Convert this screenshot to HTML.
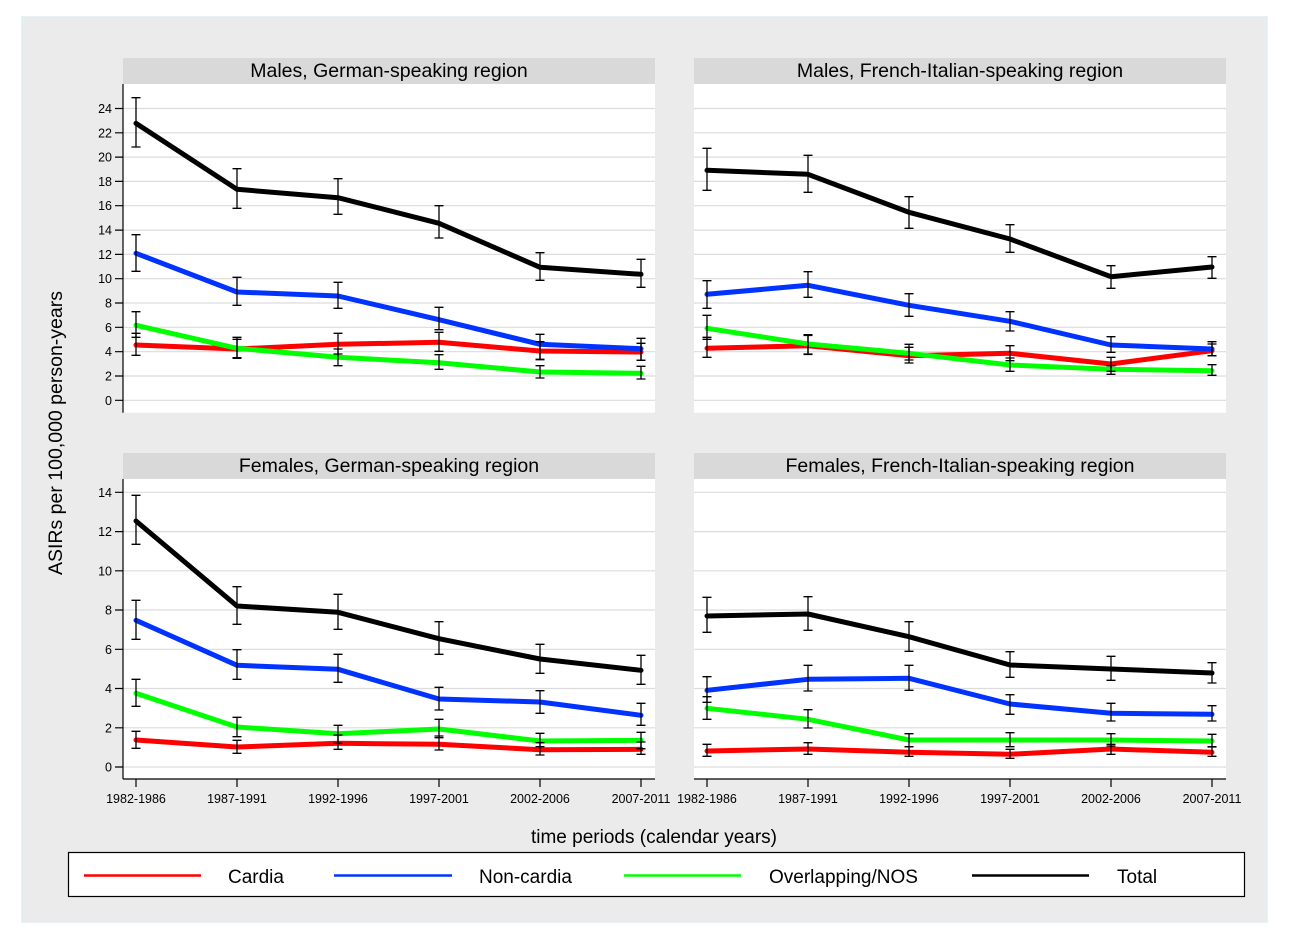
<!DOCTYPE html>
<html>
<head>
<meta charset="utf-8">
<style>
html,body{margin:0;padding:0;background:#fff;width:1290px;height:940px;overflow:hidden;}
svg{display:block;font-family:"Liberation Sans",Arial,sans-serif;}
</style>
</head>
<body>
<svg width="1290" height="940" viewBox="0 0 1290 940" xmlns="http://www.w3.org/2000/svg">
  <!-- outer background -->
  <rect x="22" y="17" width="1245" height="905" fill="#EBEBEB" stroke="#DDEEF0" stroke-width="1.5"/>

  <!-- title bars -->
  <rect x="123" y="58" width="532" height="26" fill="#D9D9D9"/>
  <rect x="694" y="58" width="532" height="26" fill="#D9D9D9"/>
  <rect x="123" y="453" width="532" height="26" fill="#D9D9D9"/>
  <rect x="694" y="453" width="532" height="26" fill="#D9D9D9"/>
  <g font-size="19.5" fill="#000" text-anchor="middle">
    <text x="389" y="77">Males, German-speaking region</text>
    <text x="960" y="77">Males, French-Italian-speaking region</text>
    <text x="389" y="472">Females, German-speaking region</text>
    <text x="960" y="472">Females, French-Italian-speaking region</text>
  </g>

  <!-- plot areas -->
  <rect x="123" y="84" width="532" height="328.7" fill="#fff"/>
  <rect x="694" y="84" width="532" height="328.7" fill="#fff"/>
  <rect x="123" y="479" width="532" height="300" fill="#fff"/>
  <rect x="694" y="479" width="532" height="300" fill="#fff"/>

  <!-- gridlines -->
  <g stroke="#DCDCDC" stroke-width="1.2" fill="none">
    <path d="M123 400.3H655M123 376H655M123 351.7H655M123 327.3H655M123 303H655M123 278.7H655M123 254.4H655M123 230.1H655M123 205.7H655M123 181.4H655M123 157.1H655M123 132.8H655M123 108.5H655"/>
    <path d="M694 400.3H1226M694 376H1226M694 351.7H1226M694 327.3H1226M694 303H1226M694 278.7H1226M694 254.4H1226M694 230.1H1226M694 205.7H1226M694 181.4H1226M694 157.1H1226M694 132.8H1226M694 108.5H1226"/>
    <path d="M123 767H655M123 727.8H655M123 688.5H655M123 649.3H655M123 610H655M123 570.8H655M123 531.6H655M123 492.3H655"/>
    <path d="M694 767H1226M694 727.8H1226M694 688.5H1226M694 649.3H1226M694 610H1226M694 570.8H1226M694 531.6H1226M694 492.3H1226"/>
  </g>

  <!-- axes -->
  <g stroke="#000" stroke-width="1.2" fill="none">
    <path d="M123 84V412.7M123 479V779"/>
    <path d="M115 400.3H123M115 376H123M115 351.7H123M115 327.3H123M115 303H123M115 278.7H123M115 254.4H123M115 230.1H123M115 205.7H123M115 181.4H123M115 157.1H123M115 132.8H123M115 108.5H123"/>
    <path d="M115 767H123M115 727.8H123M115 688.5H123M115 649.3H123M115 610H123M115 570.8H123M115 531.6H123M115 492.3H123"/>
    <path d="M123 779H655M694 779H1226"/>
    <path d="M136 779V787M237 779V787M338 779V787M439 779V787M540 779V787M641 779V787M707 779V787M808 779V787M909 779V787M1010 779V787M1111 779V787M1212 779V787"/>
  </g>

  <!-- y tick labels -->
  <g font-size="12.5" fill="#000" text-anchor="end">
    <text x="112" y="404.8">0</text>
    <text x="112" y="380.5">2</text>
    <text x="112" y="356.2">4</text>
    <text x="112" y="331.8">6</text>
    <text x="112" y="307.5">8</text>
    <text x="112" y="283.2">10</text>
    <text x="112" y="258.9">12</text>
    <text x="112" y="234.6">14</text>
    <text x="112" y="210.2">16</text>
    <text x="112" y="185.9">18</text>
    <text x="112" y="161.6">20</text>
    <text x="112" y="137.3">22</text>
    <text x="112" y="113">24</text>
    <text x="112" y="771.5">0</text>
    <text x="112" y="732.3">2</text>
    <text x="112" y="693">4</text>
    <text x="112" y="653.8">6</text>
    <text x="112" y="614.5">8</text>
    <text x="112" y="575.3">10</text>
    <text x="112" y="536.1">12</text>
    <text x="112" y="496.8">14</text>
  </g>

  <!-- x tick labels -->
  <g font-size="12.5" fill="#000" text-anchor="middle">
    <text x="136" y="803">1982-1986</text>
    <text x="237" y="803">1987-1991</text>
    <text x="338" y="803">1992-1996</text>
    <text x="439" y="803">1997-2001</text>
    <text x="540" y="803">2002-2006</text>
    <text x="641" y="803">2007-2011</text>
    <text x="707" y="803">1982-1986</text>
    <text x="808" y="803">1987-1991</text>
    <text x="909" y="803">1992-1996</text>
    <text x="1010" y="803">1997-2001</text>
    <text x="1111" y="803">2002-2006</text>
    <text x="1212" y="803">2007-2011</text>
  </g>

  <!-- axis titles -->
  <text x="654" y="843" font-size="19" text-anchor="middle" fill="#000">time periods (calendar years)</text>
  <text transform="translate(62,433) rotate(-90)" font-size="19.5" text-anchor="middle" fill="#000">ASIRs per 100,000 person-years</text>

  <!-- series lines -->
  <g fill="none" stroke-width="5" stroke-linejoin="round" stroke-linecap="round">
    <!-- TL -->
    <polyline stroke="#FF0000" points="136,345 237,349 338,344.3 439,342.3 540,351 641,352"/>
    <polyline stroke="#0033FF" points="136,253.3 237,292 338,296 439,319.7 540,344.3 641,348.7"/>
    <polyline stroke="#00FF00" points="136,325.3 237,348.3 338,357.3 439,362.7 540,372 641,373.3"/>
    <polyline stroke="#000000" points="136,123.3 237,189.3 338,197.7 439,223.3 540,267.3 641,274.3"/>
    <!-- TR -->
    <polyline stroke="#FF0000" points="707,348.3 808,345.7 909,355.7 1010,353.3 1111,364 1212,350.7"/>
    <polyline stroke="#0033FF" points="707,294.3 808,285.3 909,305.3 1010,321.3 1111,345 1212,349"/>
    <polyline stroke="#00FF00" points="707,328.3 808,344 909,353.3 1010,365 1111,369.3 1212,370.7"/>
    <polyline stroke="#000000" points="707,170.3 808,174.3 909,212.3 1010,239 1111,276.7 1212,267"/>
    <!-- BL -->
    <polyline stroke="#FF0000" points="136,740 237,747 338,743.3 439,744.3 540,749.7 641,749.3"/>
    <polyline stroke="#0033FF" points="136,620.3 237,665.3 338,669.3 439,699 540,702 641,715.3"/>
    <polyline stroke="#00FF00" points="136,693.3 237,727 338,733.7 439,729 540,741 641,740.3"/>
    <polyline stroke="#000000" points="136,521 237,606 338,612.3 439,638.7 540,659 641,670.3"/>
    <!-- BR -->
    <polyline stroke="#FF0000" points="707,751 808,749 909,752.3 1010,754.3 1111,749 1212,752.3"/>
    <polyline stroke="#0033FF" points="707,690.3 808,679.3 909,678.3 1010,704 1111,713.3 1212,714.3"/>
    <polyline stroke="#00FF00" points="707,708.3 808,719.3 909,740 1010,740 1111,740 1212,741"/>
    <polyline stroke="#000000" points="707,616 808,614 909,636.7 1010,665 1111,669 1212,673"/>
  </g>

  <!-- error bars -->
  <g fill="none" stroke="#000" stroke-width="1.3">
    <!-- TL total -->
    <path d="M131.5 97.7h9M136 97.7V147M131.5 147h9M232.5 168.7h9M237 168.7V208.3M232.5 208.3h9M333.5 178.7h9M338 178.7V214.3M333.5 214.3h9M434.5 205.7h9M439 205.7V238M434.5 238h9M535.5 252.7h9M540 252.7V280.3M535.5 280.3h9M636.5 259.3h9M641 259.3V287.3M636.5 287.3h9"/>
    <!-- TL blue -->
    <path d="M131.5 234.7h9M136 234.7V271.3M131.5 271.3h9M232.5 277.3h9M237 277.3V305.3M232.5 305.3h9M333.5 282.3h9M338 282.3V308.3M333.5 308.3h9M434.5 307.3h9M439 307.3V329.7M434.5 329.7h9M535.5 334.3h9M540 334.3V359.3M535.5 359.3h9M636.5 338.3h9M641 338.3V360.3M636.5 360.3h9"/>
    <!-- TL red -->
    <path d="M131.5 333.3h9M136 333.3V355.3M131.5 355.3h9M232.5 337.3h9M237 337.3V357.7M232.5 357.7h9M333.5 333.3h9M338 333.3V354M333.5 354h9M434.5 332.3h9M439 332.3V351.3M434.5 351.3h9M535.5 341.7h9M540 341.7V359.7M535.5 359.7h9M636.5 343.3h9M641 343.3V360.3M636.5 360.3h9"/>
    <!-- TL green -->
    <path d="M131.5 311.7h9M136 311.7V337.3M131.5 337.3h9M232.5 339.3h9M237 339.3V358.3M232.5 358.3h9M333.5 349h9M338 349V365.7M333.5 365.7h9M434.5 354.7h9M439 354.7V369.3M434.5 369.3h9M535.5 365.7h9M540 365.7V378M535.5 378h9M636.5 366.3h9M641 366.3V379M636.5 379h9"/>
    <!-- TR total -->
    <path d="M702.5 148.3h9M707 148.3V190.3M702.5 190.3h9M803.5 155.3h9M808 155.3V192.3M803.5 192.3h9M904.5 196.7h9M909 196.7V228.3M904.5 228.3h9M1005.5 224.7h9M1010 224.7V252.3M1005.5 252.3h9M1106.5 265.7h9M1111 265.7V288.3M1106.5 288.3h9M1207.5 256.7h9M1212 256.7V278.3M1207.5 278.3h9"/>
    <!-- TR blue -->
    <path d="M702.5 280.7h9M707 280.7V308.3M702.5 308.3h9M803.5 271.7h9M808 271.7V297.3M803.5 297.3h9M904.5 293.7h9M909 293.7V316.3M904.5 316.3h9M1005.5 311.7h9M1010 311.7V331M1005.5 331h9M1106.5 336.7h9M1111 336.7V352.3M1106.5 352.3h9M1207.5 341.7h9M1212 341.7V355.7M1207.5 355.7h9"/>
    <!-- TR red -->
    <path d="M702.5 337.3h9M707 337.3V357.3M702.5 357.3h9M803.5 334.7h9M808 334.7V354M803.5 354h9M904.5 344.3h9M909 344.3V360M904.5 360h9M1005.5 345.7h9M1010 345.7V360.7M1005.5 360.7h9M1106.5 357.3h9M1111 357.3V371.3M1106.5 371.3h9M1207.5 344h9M1212 344V355.7M1207.5 355.7h9"/>
    <!-- TR green -->
    <path d="M702.5 315.3h9M707 315.3V339.3M702.5 339.3h9M803.5 335.5h9M808 335.5V354.5M803.5 354.5h9M904.5 347.3h9M909 347.3V363M904.5 363h9M1005.5 358h9M1010 358V371.3M1005.5 371.3h9M1106.5 365.7h9M1111 365.7V374.3M1106.5 374.3h9M1207.5 364.7h9M1212 364.7V375.3M1207.5 375.3h9"/>
    <!-- BL total -->
    <path d="M131.5 495.3h9M136 495.3V544.3M131.5 544.3h9M232.5 586.7h9M237 586.7V624.3M232.5 624.3h9M333.5 594.3h9M338 594.3V629.3M333.5 629.3h9M434.5 621.7h9M439 621.7V654.3M434.5 654.3h9M535.5 644.3h9M540 644.3V673.3M535.5 673.3h9M636.5 655.3h9M641 655.3V684.3M636.5 684.3h9"/>
    <!-- BL blue -->
    <path d="M131.5 600.3h9M136 600.3V639.3M131.5 639.3h9M232.5 649.7h9M237 649.7V679.3M232.5 679.3h9M333.5 654.3h9M338 654.3V682.3M333.5 682.3h9M434.5 687.3h9M439 687.3V710M434.5 710h9M535.5 690.7h9M540 690.7V713.3M535.5 713.3h9M636.5 703.3h9M641 703.3V725.3M636.5 725.3h9"/>
    <!-- BL green -->
    <path d="M131.5 679.3h9M136 679.3V706.3M131.5 706.3h9M232.5 717.3h9M237 717.3V736.7M232.5 736.7h9M333.5 725.3h9M338 725.3V743.3M333.5 743.3h9M434.5 719.3h9M439 719.3V737.7M434.5 737.7h9M535.5 733.3h9M540 733.3V746.7M535.5 746.7h9M636.5 732.3h9M641 732.3V748.7M636.5 748.7h9"/>
    <!-- BL red -->
    <path d="M131.5 731.3h9M136 731.3V748.3M131.5 748.3h9M232.5 740.3h9M237 740.3V753.3M232.5 753.3h9M333.5 735h9M338 735V749.3M333.5 749.3h9M434.5 736h9M439 736V750M434.5 750h9M535.5 742.7h9M540 742.7V755M535.5 755h9M636.5 742h9M641 742V754.3M636.5 754.3h9"/>
    <!-- BR total -->
    <path d="M702.5 597.3h9M707 597.3V632.3M702.5 632.3h9M803.5 596.7h9M808 596.7V630.3M803.5 630.3h9M904.5 621.7h9M909 621.7V651.3M904.5 651.3h9M1005.5 651.7h9M1010 651.7V677.3M1005.5 677.3h9M1106.5 656.3h9M1111 656.3V680.3M1106.5 680.3h9M1207.5 662.7h9M1212 662.7V683M1207.5 683h9"/>
    <!-- BR blue -->
    <path d="M702.5 676.7h9M707 676.7V702.3M702.5 702.3h9M803.5 665.3h9M808 665.3V691M803.5 691h9M904.5 665.3h9M909 665.3V690.3M904.5 690.3h9M1005.5 694.7h9M1010 694.7V714.3M1005.5 714.3h9M1106.5 703.3h9M1111 703.3V721M1106.5 721h9M1207.5 705.7h9M1212 705.7V721M1207.5 721h9"/>
    <!-- BR green -->
    <path d="M702.5 696.7h9M707 696.7V719.3M702.5 719.3h9M803.5 709.7h9M808 709.7V728M803.5 728h9M904.5 733.7h9M909 733.7V746.7M904.5 746.7h9M1005.5 732.7h9M1010 732.7V746.7M1005.5 746.7h9M1106.5 733.7h9M1111 733.7V746M1106.5 746h9M1207.5 734.3h9M1212 734.3V747M1207.5 747h9"/>
    <!-- BR red -->
    <path d="M702.5 744.3h9M707 744.3V756.3M702.5 756.3h9M803.5 742.7h9M808 742.7V754.3M803.5 754.3h9M904.5 746.7h9M909 746.7V756.3M904.5 756.3h9M1005.5 749.3h9M1010 749.3V758.3M1005.5 758.3h9M1106.5 744.3h9M1111 744.3V754.3M1106.5 754.3h9M1207.5 746.7h9M1212 746.7V756.3M1207.5 756.3h9"/>
  </g>

  <!-- legend -->
  <rect x="68.5" y="852.5" width="1176" height="44" fill="#fff" stroke="#000" stroke-width="1.2"/>
  <g stroke-width="2.5">
    <line x1="84" y1="875.5" x2="201" y2="875.5" stroke="#FF0000"/>
    <line x1="334" y1="875.5" x2="452" y2="875.5" stroke="#0033FF"/>
    <line x1="624" y1="875.5" x2="741" y2="875.5" stroke="#00FF00"/>
    <line x1="972" y1="875.5" x2="1089" y2="875.5" stroke="#000000"/>
  </g>
  <g font-size="19" fill="#000">
    <text x="228" y="883">Cardia</text>
    <text x="479" y="883">Non-cardia</text>
    <text x="769" y="883">Overlapping/NOS</text>
    <text x="1117" y="883">Total</text>
  </g>
</svg>
</body>
</html>
